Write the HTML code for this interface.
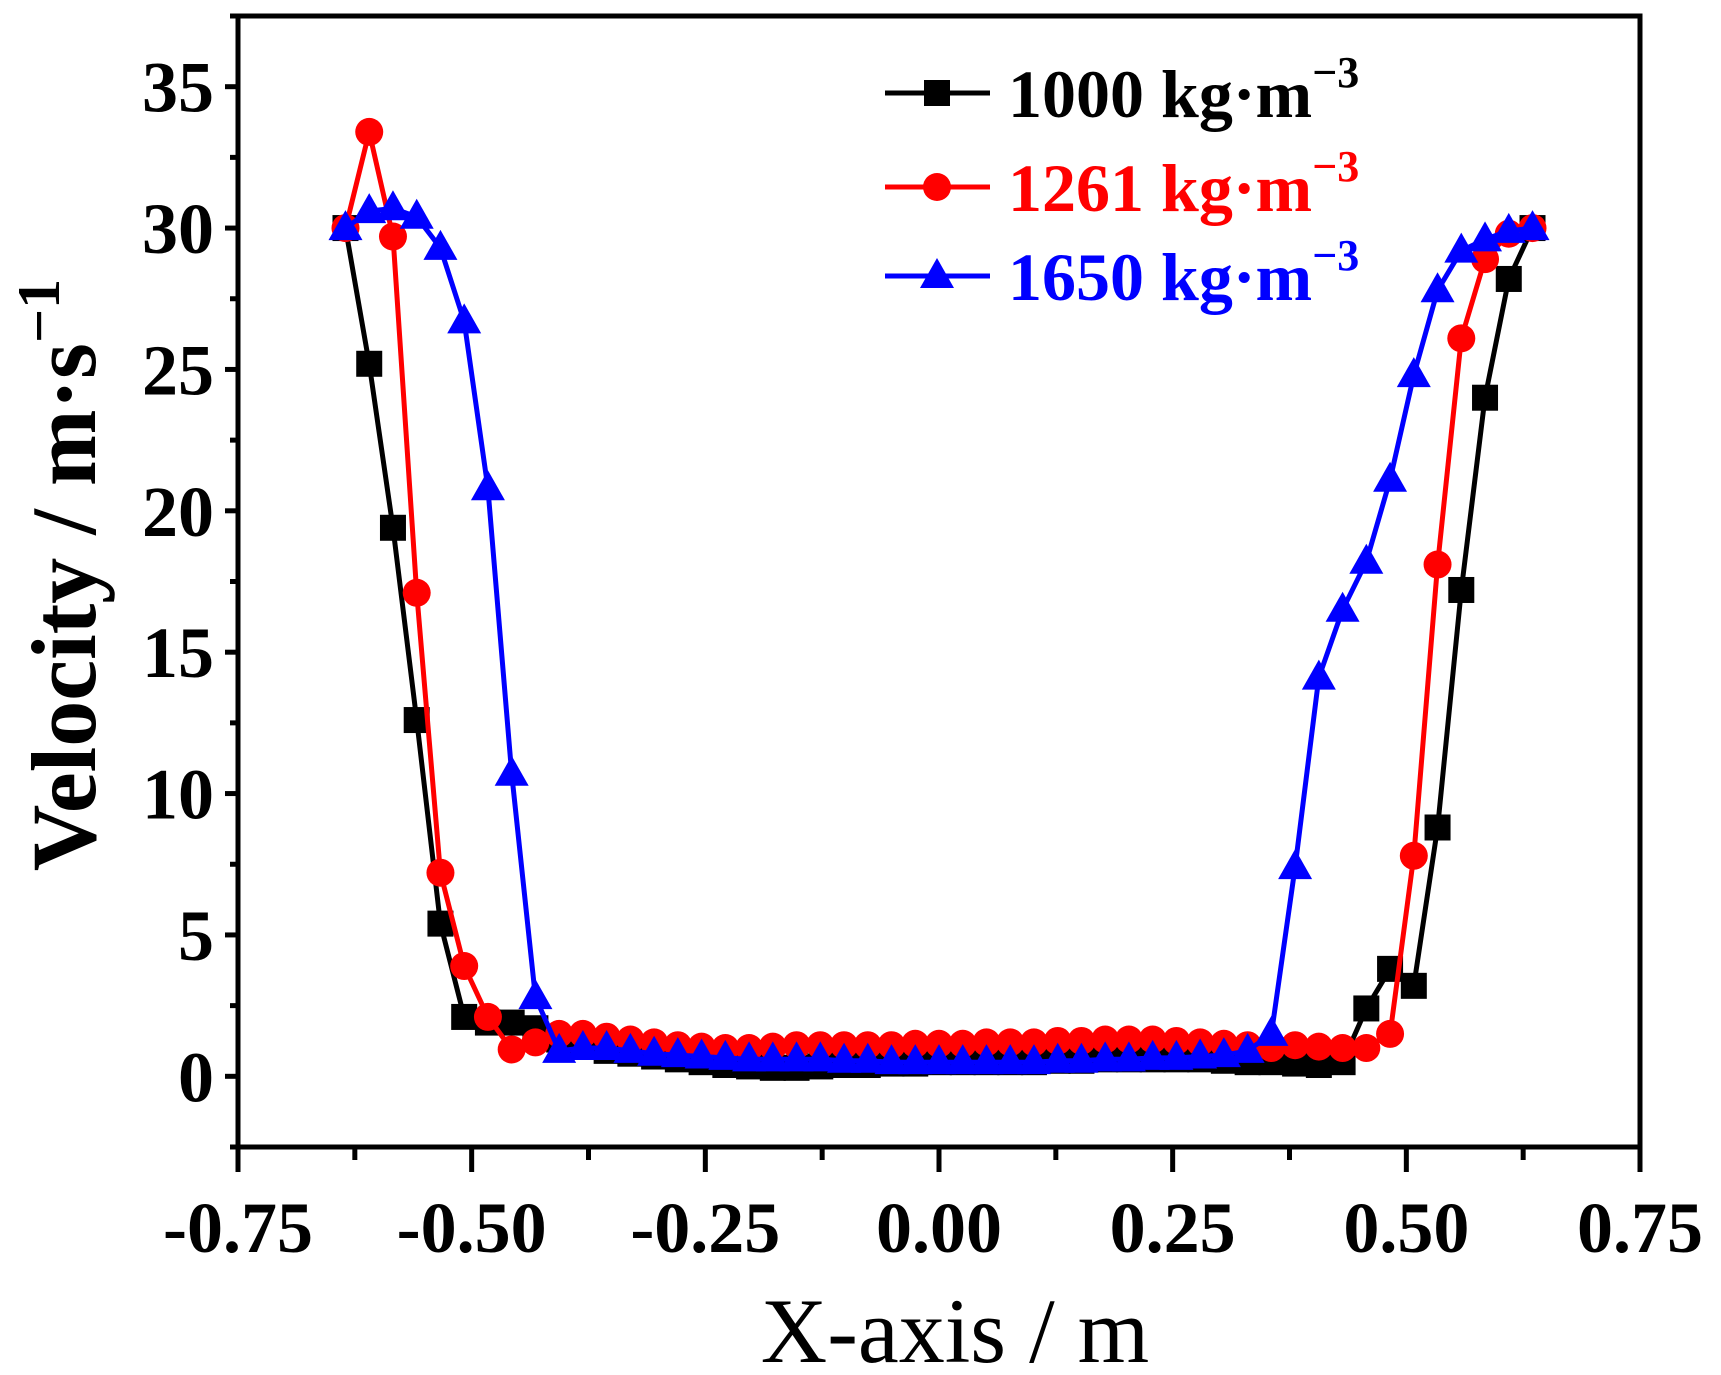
<!DOCTYPE html>
<html><head><meta charset="utf-8"><style>
html,body{margin:0;padding:0;background:#fff;}
svg{display:block;}
text{font-family:"Liberation Serif",serif;}
</style></head><body>
<svg id="chart" width="1721" height="1375" viewBox="0 0 1721 1375" xmlns="http://www.w3.org/2000/svg">
<g id="axes"></g>
<g id="series"></g>
<g id="legend"></g>
<text x="955" y="1362" text-anchor="middle" font-size="92">X-axis / m</text>
<text transform="translate(95,575) rotate(-90)" text-anchor="middle" font-size="92" font-weight="bold">Velocity / m·s<tspan dy="-36" font-size="60">−1</tspan></text>
</svg>
<script>
const xTicks = [-0.75, -0.5, -0.25, 0, 0.25, 0.5, 0.75];
const xTickLabels = ["-0.75", "-0.50", "-0.25", "0.00", "0.25", "0.50", "0.75"];
const yTicks = [0, 5, 10, 15, 20, 25, 30, 35];
const yTickLabels = ["0", "5", "10", "15", "20", "25", "30", "35"];
const xStart = -0.635, xStep = 0.0254;
const v1000 = [30,25.2,19.4,12.6,5.4,2.1,1.9,1.9,1.7,1.3,
 1.1,0.9,0.8,0.7,0.6,0.5,0.4,0.35,0.3,0.3,
 0.35,0.4,0.4,0.45,0.45,0.5,0.5,0.5,0.5,0.5,
 0.55,0.55,0.6,0.6,0.6,0.6,0.6,0.55,0.5,0.5,
 0.45,0.4,0.5,2.4,3.8,3.2,8.8,17.2,24.0,28.2,30];
const v1261 = [30,33.4,29.7,17.1,7.2,3.9,2.1,0.95,1.2,1.5,
 1.5,1.4,1.3,1.2,1.1,1.05,1.0,1.0,1.05,1.1,
 1.1,1.1,1.1,1.1,1.15,1.15,1.15,1.2,1.2,1.2,
 1.25,1.25,1.3,1.3,1.3,1.25,1.2,1.15,1.1,1.0,
 1.1,1.05,1.0,1.0,1.5,7.8,18.1,26.1,28.9,29.8,30];
const v1650 = [30,30.6,30.7,30.4,29.3,26.7,20.8,10.7,2.8,0.9,
 1.0,1.0,0.9,0.8,0.75,0.7,0.65,0.6,0.6,0.6,
 0.6,0.55,0.55,0.5,0.5,0.5,0.5,0.5,0.5,0.5,
 0.55,0.55,0.6,0.6,0.65,0.65,0.7,0.75,0.9,1.5,
 7.4,14.1,16.5,18.2,21.1,24.8,27.8,29.2,29.6,29.9,30];

const L=238,R=1640,T=16,B=1147;
const xMin=-0.75,xMax=0.75,yMin=-2.5,yMax=37.5;
function sx(v){return L+(v-xMin)/(xMax-xMin)*(R-L);}
function sy(v){return B-(v-yMin)/(yMax-yMin)*(B-T);}
const NS="http://www.w3.org/2000/svg";
function mk(tag,attrs,parent){const e=document.createElementNS(NS,tag);for(const k in attrs)e.setAttribute(k,attrs[k]);parent.appendChild(e);return e;}

const axes=document.getElementById('axes');
const frame=mk('rect',{x:L,y:T,width:R-L,height:B-T,fill:'none',stroke:'#000','stroke-width':5},axes);


xTicks.forEach((t,i)=>{
  const x=sx(t);
  const tk=mk('line',{x1:x,x2:x,y1:B,y2:B+25,stroke:'#000','stroke-width':5},axes);
  
  
  if(i<xTicks.length-1){
    const m=sx(t+0.125);
    const mt=mk('line',{x1:m,x2:m,y1:B,y2:B+13,stroke:'#000','stroke-width':5},axes);
    
    
  }
  const lb=mk('text',{x:x,y:1252,'text-anchor':'middle','font-size':72,'font-weight':'bold'},axes);
  lb.textContent=xTickLabels[i];
  
  
});
yTicks.forEach((t,i)=>{
  const y=sy(t);
  const tk=mk('line',{x1:L-13,x2:L,y1:y,y2:y,stroke:'#000','stroke-width':5},axes);
  
  
  const lb=mk('text',{x:214,y:y+25,'text-anchor':'end','font-size':72,'font-weight':'bold'},axes);
  lb.textContent=yTickLabels[i];
  
  
});
for(let v=-2.5;v<=37.5;v+=5){
  const y=sy(v);
  const mt=mk('line',{x1:L-8,x2:L,y1:y,y2:y,stroke:'#000','stroke-width':5},axes);
  
  
}

function marker(g,type,x,y,color){
  let e;
  if(type==='square') e=mk('rect',{x:x-13,y:y-13,width:26,height:26,fill:color},g);
  else if(type==='circle') e=mk('circle',{cx:x,cy:y,r:14,fill:color},g);
  else e=mk('polygon',{points:`${x},${y-18} ${x-17},${y+12} ${x+17},${y+12}`,fill:color},g);
  return e;
}
const series=document.getElementById('series');
const defs=[['1000',v1000,'#000','square'],['1261',v1261,'#ff0000','circle'],['1650',v1650,'#0000ff','triangle']];
defs.forEach(([name,vals,color,type])=>{
  const g=mk('g',{},series);
  
  
  const pts=vals.map((v,i)=>sx(xStart+i*xStep).toFixed(1)+','+sy(v).toFixed(1)).join(' ');
  const pl=mk('polyline',{points:pts,fill:'none',stroke:color,'stroke-width':5,'stroke-linejoin':'round'},g);
  
  
  vals.forEach((v,i)=>{
    const m=marker(g,type,sx(xStart+i*xStep),sy(v),color);
    
    
  });
});

const legend=document.getElementById('legend');
const ly=[93,187,276];
defs.forEach(([name,vals,color,type],i)=>{
  const g=mk('g',{},legend);
  
  
  mk('line',{x1:885,x2:990,y1:ly[i],y2:ly[i],stroke:color,'stroke-width':5},g);
  marker(g,type,937,ly[i],color);
  const t=mk('text',{x:1008,y:ly[i]+24,'font-size':68,'font-weight':'bold',fill:color},g);
  t.innerHTML=name+' kg·m<tspan dy="-30" font-size="44">−3</tspan>';
  
  
});
</script>
</body></html>
